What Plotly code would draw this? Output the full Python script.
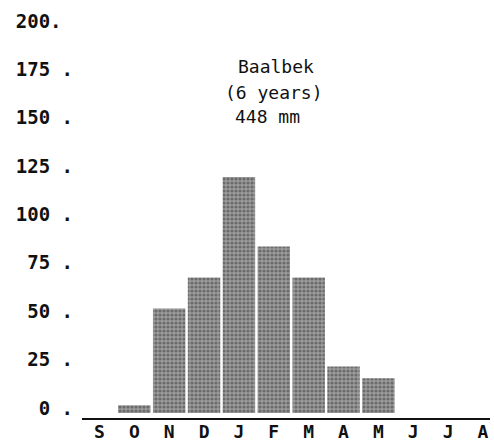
import plotly.graph_objects as go

months = ["S", "O", "N", "D", "J", "F", "M", "A", "M", "J", "J", "A"]
rain_mm = [0, 4, 54, 70, 122, 86, 70, 24, 18, 0, 0, 0]
y_ticks = [0, 25, 50, 75, 100, 125, 150, 175, 200]
y_tick_text = ["\u00a0\u00a00 .", "\u00a025 .", "\u00a050 .", "\u00a075 .", "100 .", "125 .", "150 .", "175 .", "200.\u00a0"]
title_lines = ["Baalbek", "(6 years)", "448 mm"]

x_idx = list(range(len(months)))

fig = go.Figure()
fig.add_trace(go.Bar(
    x=x_idx, y=rain_mm,
    marker=dict(
        color="#8e8e8e",
        line=dict(width=0),
        pattern=dict(shape=".", fgcolor="#3a3a3a", bgcolor="#9c9c9c", size=4, solidity=0.5),
    ),
    hoverinfo="skip",
))

mono = "DejaVu Sans Mono"
fig.update_layout(
    width=494, height=445,
    margin=dict(l=82, r=4, t=25, b=27),
    plot_bgcolor="white", paper_bgcolor="white",
    showlegend=False,
    bargap=0.07,
    font=dict(family=mono, color="#111"),
)
fig.update_xaxes(
    range=[-0.5, 11.2],
    tickmode="array", tickvals=x_idx, ticktext=months,
    tickfont=dict(family=mono, size=18, weight="bold", color="#111"),
    showgrid=False, zeroline=False,
    showline=True, linecolor="#111", linewidth=2,
    ticks="",
    automargin=False,
    ticklabelstandoff=-4,
)
fig.update_yaxes(
    range=[-2.6, 200.5],
    tickmode="array", tickvals=y_ticks, ticktext=y_tick_text,
    tickfont=dict(family=mono, size=19, weight="bold", color="#111"),
    showgrid=False, zeroline=False, showline=False,
    ticks="",
    ticklabelshift=-5,
    ticklabelstandoff=8,
    automargin=False,
)

ys = [0.894, 0.827, 0.768]
xs = [0.475, 0.47, 0.455]
for t, yy, xx in zip(title_lines, ys, xs):
    fig.add_annotation(text=t, xref="paper", yref="paper", x=xx, y=yy,
                       showarrow=False, xanchor="center", yanchor="middle",
                       font=dict(family=mono, size=18, color="#111"))

fig.write_html("out.html")
